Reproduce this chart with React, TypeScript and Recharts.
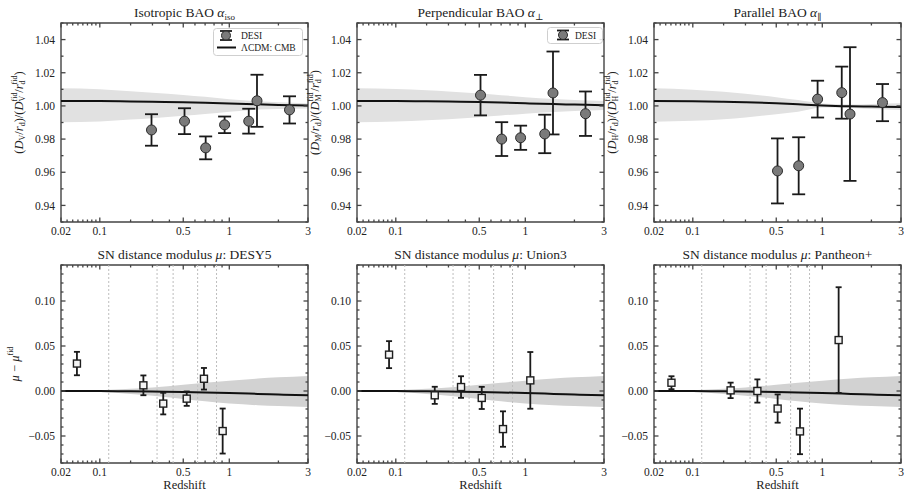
import React from "react"
import {
  ComposedChart, XAxis, YAxis, Area, Line, Scatter, ErrorBar, ReferenceLine, ReferenceArea, Label,
} from "recharts"

const SERIF = "'Liberation Serif', 'DejaVu Serif', serif"
const INK = "#222222"
const FRAME = "#444444"

// ── Redshift axis (the figure plots z on a log10(z + 0.1) axis) ──────────────
const xMajorZ = [0.02, 0.1, 0.5, 1, 3]
const xMajorLabels = ["0.02", "0.1", "0.5", "1", "3"]
const xMinorZ = [0.03, 0.04, 0.05, 0.06, 0.07, 0.08, 0.09, 0.2, 0.3, 0.4, 0.6, 0.7, 0.8, 0.9, 2]

// ── BAO panels ───────────────────────────────────────────────────────────────
const isoZ = [0.295, 0.51, 0.706, 0.934, 1.321, 1.484, 2.33]
const isoVal = [0.9855, 0.9908, 0.9747, 0.9886, 0.9908, 1.0031, 0.9976]
const isoErr = [0.0095, 0.0078, 0.0069, 0.005, 0.0075, 0.0157, 0.0082]

const perpZ = [0.51, 0.706, 0.934, 1.321, 1.484, 2.33]
const perpVal = [1.0065, 0.98, 0.9808, 0.9831, 1.0078, 0.9953]
const perpErr = [0.0122, 0.0102, 0.0073, 0.0116, 0.025, 0.0134]

const parZ = [0.51, 0.706, 0.934, 1.321, 1.484, 2.33]
const parVal = [0.9608, 0.9639, 1.0041, 1.008, 0.9951, 1.002]
const parErr = [0.0196, 0.0172, 0.0111, 0.0157, 0.0403, 0.0112]

// ΛCDM: CMB prediction and its band
const bandZ = [0.02, 0.1, 0.2, 0.3, 0.5, 0.7, 1.0, 1.5, 2.0, 3.0]
const isoMid = [1.003, 1.0029, 1.0027, 1.0025, 1.0022, 1.0019, 1.0015, 1.001, 1.0006, 1.0002]
const isoHi = [1.0106, 1.01, 1.0088, 1.008, 1.0066, 1.0055, 1.004, 1.0028, 1.0022, 1.0015]
const isoLo = [0.9902, 0.9906, 0.9918, 0.9926, 0.994, 0.9951, 0.9965, 0.9978, 0.9982, 0.9985]
const perpMid = [1.003, 1.0029, 1.0028, 1.0026, 1.0023, 1.002, 1.0016, 1.0011, 1.0008, 1.0004]
const perpHi = [1.0106, 1.0102, 1.0094, 1.0087, 1.0075, 1.0065, 1.0053, 1.0042, 1.0036, 1.003]
const perpLo = [0.9902, 0.9906, 0.9914, 0.992, 0.9932, 0.9942, 0.9953, 0.9964, 0.997, 0.9976]
const parMid = [1.003, 1.0028, 1.0025, 1.0022, 1.0016, 1.001, 1.0003, 0.9998, 0.9996, 0.9994]
const parHi = [1.0106, 1.0098, 1.0085, 1.0073, 1.0052, 1.0035, 1.0015, 1.0008, 1.0012, 1.0016]
const parLo = [0.9904, 0.991, 0.992, 0.993, 0.995, 0.9965, 0.999, 0.9988, 0.9982, 0.9976]

// ── SN panels ────────────────────────────────────────────────────────────────
const desZ = [0.048, 0.255, 0.361, 0.528, 0.688, 0.908]
const desVal = [0.0305, 0.0063, -0.014, -0.0085, 0.0136, -0.0445]
const desErr = [0.013, 0.011, 0.012, 0.008, 0.012, 0.025]

const uniZ = [0.083, 0.234, 0.372, 0.52, 0.72, 1.075]
const uniVal = [0.0404, -0.0048, 0.0044, -0.0077, -0.0423, 0.0118]
const uniErr = [0.015, 0.0095, 0.012, 0.0123, 0.0197, 0.0315]

const panZ = [0.051, 0.229, 0.368, 0.511, 0.72, 1.264]
const panVal = [0.0092, 0.0007, 0.0, -0.0195, -0.0449, 0.0566]
const panErr = [0.0072, 0.0086, 0.0129, 0.0157, 0.0253, 0.0587]

const snBandZ = [0.02, 0.05, 0.1, 0.2, 0.3, 0.5, 0.7, 1.0, 1.5, 2.0, 3.0]
const snMid = [0, 0, -0.0001, -0.0003, -0.0006, -0.0011, -0.0016, -0.0023, -0.0032, -0.0039, -0.0048]
const snHi = [0, 0.0002, 0.0008, 0.0025, 0.004, 0.007, 0.0092, 0.0115, 0.0138, 0.0152, 0.0168]
const snLo = [0, -0.0003, -0.001, -0.0032, -0.0052, -0.0088, -0.0115, -0.014, -0.0158, -0.0168, -0.0177]

// dotted redshift bin edges in the SN panels
const snEdges = [0.125, 0.325, 0.425, 0.625, 0.83]

// y ticks
const baoMajor = [0.94, 0.96, 0.98, 1.0, 1.02, 1.04]
const baoMinor = [0.93, 0.95, 0.97, 0.99, 1.01, 1.03, 1.05]
const snMajor = [-0.05, 0, 0.05, 0.1]
const snMinor = [-0.08, -0.07, -0.06, -0.04, -0.03, -0.02, -0.01, 0.01, 0.02, 0.03, 0.04, 0.06, 0.07, 0.08, 0.09, 0.11, 0.12, 0.13, 0.14]

// ── helpers ──────────────────────────────────────────────────────────────────
const zx = (z: number) => Math.log10(z + 0.1)
const X_DOMAIN: [number, number] = [zx(0.02), zx(3)]
const xMajor = xMajorZ.map(zx)
const xAll = [...xMajor, ...xMinorZ.map(zx)]

type Pt = { x: number; y: number; err: number }
type Bd = { x: number; lo: number; hi: number; mid: number }

const toPts = (zs: number[], vs: number[], es: number[]): Pt[] =>
  zs.map((z, i) => ({ x: zx(z), y: vs[i], err: es[i] }))
const toBand = (zs: number[], lo: number[], hi: number[], mid: number[]): Bd[] =>
  zs.map((z, i) => ({ x: zx(z), lo: lo[i], hi: hi[i], mid: mid[i] }))

const isIn = (list: number[], v: number) => list.some((m) => Math.abs(m - v) < 1e-9)
const xLabel = (v: number) => {
  const i = xMajor.findIndex((t) => Math.abs(t - v) < 1e-6)
  return i >= 0 ? xMajorLabels[i] : ""
}
const yLabel = (v: number) => (v < 0 ? "\u2212" + Math.abs(v).toFixed(2) : v.toFixed(2))

const PLOT_W = 247
const X_GAP = 5 // label gap below the x axis
const Y_GAP = 6 // label gap left of the y axis
const MAJ = 4.5
const MIN = 2.5
const tickText = { fontFamily: SERIF, fontSize: 11.5, fill: INK }
const tickStroke = { stroke: FRAME, strokeWidth: 1.3 }

// x tick: inward marks at bottom and top, label for majors
const xTickRenderer = (plotH: number) => (tp: any) => {
  const v = tp.payload.value
  const major = isIn(xMajor, v)
  const len = major ? MAJ : MIN
  const bot = tp.y - X_GAP
  const top = bot - plotH
  return (
    <g>
      <line x1={tp.x} x2={tp.x} y1={bot} y2={bot - len} {...tickStroke} />
      <line x1={tp.x} x2={tp.x} y1={top} y2={top + len} {...tickStroke} />
      {major && (
        <text x={tp.x} y={tp.y} dy="0.71em" textAnchor="middle" {...tickText}>{xLabel(v)}</text>
      )}
    </g>
  )
}

// y tick: inward marks at left and right, label for majors
const yTickRenderer = (majors: number[]) => (tp: any) => {
  const v = tp.payload.value
  const major = isIn(majors, v)
  const len = major ? MAJ : MIN
  const l = tp.x + Y_GAP
  const r = l + PLOT_W
  return (
    <g>
      <line x1={l} x2={l + len} y1={tp.y} y2={tp.y} {...tickStroke} />
      <line x1={r} x2={r - len} y1={tp.y} y2={tp.y} {...tickStroke} />
      {major && (
        <text x={tp.x} y={tp.y} dy="0.36em" textAnchor="end" {...tickText}>{yLabel(v)}</text>
      )}
    </g>
  )
}

const circleShape = (p: any) => (
  <circle cx={p.cx} cy={p.cy} r={5} fill="#7a7a7a" stroke="#2b2b2b" strokeWidth={1} />
)
const squareShape = (p: any) => (
  <rect x={p.cx - 3.5} y={p.cy - 3.5} width={7} height={7} fill="#f4f4f4" stroke="#1e1e1e" strokeWidth={1.4} />
)

// ── axis labels ──────────────────────────────────────────────────────────────
function RatioText({ cx, cy, sub }: { cx: number; cy: number; sub: string }) {
  const s = 8
  return (
    <text
      transform={`translate(${cx},${cy}) rotate(-90)`}
      textAnchor="middle"
      dominantBaseline="central"
      fontFamily={SERIF}
      fontSize={12.5}
      fill={INK}
    >
      <tspan>(</tspan>
      <tspan fontStyle="italic">D</tspan>
      <tspan fontSize={s} dy={3}>{sub}</tspan>
      <tspan dy={-3}>/</tspan>
      <tspan fontStyle="italic">r</tspan>
      <tspan fontSize={s} dy={3}>d</tspan>
      <tspan dy={-3}>)/(</tspan>
      <tspan fontStyle="italic">D</tspan>
      <tspan fontSize={s} dy={-5}>fid</tspan>
      <tspan fontSize={s} dx={-9} dy={8}>{sub}</tspan>
      <tspan dx={3} dy={-3}>/</tspan>
      <tspan fontStyle="italic">r</tspan>
      <tspan fontSize={s} dy={-5}>fid</tspan>
      <tspan fontSize={s} dx={-9} dy={8}>d</tspan>
      <tspan dx={5} dy={-3}>)</tspan>
    </text>
  )
}

function MuText({ cx, cy }: { cx: number; cy: number }) {
  return (
    <text
      transform={`translate(${cx},${cy}) rotate(-90)`}
      textAnchor="middle"
      dominantBaseline="central"
      fontFamily={SERIF}
      fontSize={12.5}
      fill={INK}
    >
      <tspan fontStyle="italic">μ</tspan>
      <tspan>{" \u2212 "}</tspan>
      <tspan fontStyle="italic">μ</tspan>
      <tspan fontSize={8} dy={-5}>fid</tspan>
    </text>
  )
}

// ── one panel ────────────────────────────────────────────────────────────────
type PanelProps = {
  left: number
  top: number
  height: number
  mTop: number
  xAxisH: number
  yDomain: [number, number]
  yMajor: number[]
  yMinor: number[]
  band: Bd[]
  bandFill: string
  points: Pt[]
  shape: (p: any) => React.ReactElement
  cap: number
  vlines?: number[]
  ySub?: string
  mu?: boolean
  redshift?: boolean
}

function Panel(p: PanelProps) {
  const plotH = p.height - p.mTop - 2 - p.xAxisH
  const num = { type: "number" as const, allowDataOverflow: true, interval: 0 as const }
  const ids = { xAxisId: "x", yAxisId: "y" }
  return (
    <div style={{ position: "absolute", left: p.left, top: p.top, width: 318, height: p.height }}>
      <ComposedChart width={318} height={p.height} margin={{ top: p.mTop, right: 10, bottom: 2, left: 0 }}>
        <XAxis
          xAxisId="x" dataKey="x" {...num} domain={X_DOMAIN} ticks={xAll}
          height={p.xAxisH} tickSize={0} tickMargin={X_GAP} tickLine={false} axisLine={false}
          tick={xTickRenderer(plotH)}
        >
          {p.redshift && (
            <Label
              content={(lp: any) => (
                <text
                  x={lp.viewBox.x + lp.viewBox.width / 2} y={lp.viewBox.y + 22}
                  textAnchor="middle" dominantBaseline="central"
                  fontFamily={SERIF} fontSize={12.5} fill={INK}
                >
                  Redshift
                </text>
              )}
            />
          )}
        </XAxis>
        <YAxis
          yAxisId="y" dataKey="y" {...num} domain={p.yDomain} ticks={[...p.yMajor, ...p.yMinor]}
          width={61} tickSize={0} tickMargin={Y_GAP} tickLine={false} axisLine={false}
          tick={yTickRenderer(p.yMajor)}
        >
          {(p.ySub || p.mu) && (
            <Label
              content={(lp: any) => {
                const cy = lp.viewBox.y + lp.viewBox.height / 2
                return p.mu
                  ? <MuText cx={lp.viewBox.x + 15} cy={cy} />
                  : <RatioText cx={lp.viewBox.x + 19} cy={cy - 10} sub={p.ySub as string} />
              }}
            />
          )}
        </YAxis>

        {(p.vlines || []).map((z) => (
          <ReferenceLine
            key={"v" + z} x={zx(z)} {...ids}
            stroke="#bdbdbd" strokeWidth={1} strokeDasharray="2 2"
          />
        ))}
        <Area
          data={p.band} dataKey={(d: Bd) => [d.lo, d.hi]} {...ids}
          type="monotone" stroke="none" fill={p.bandFill} fillOpacity={1}
          dot={false} activeDot={false} isAnimationActive={false}
        />
        <Line
          data={p.band} dataKey="mid" {...ids}
          type="monotone" stroke="#111111" strokeWidth={2} dot={false} activeDot={false} isAnimationActive={false}
        />
        <Scatter data={p.points} {...ids} shape={p.shape} isAnimationActive={false}>
          <ErrorBar dataKey="err" direction="y" width={p.cap} stroke="#1a1a1a" strokeWidth={1.8} />
        </Scatter>
        {/* axes frame */}
        <ReferenceArea
          x1={X_DOMAIN[0]} x2={X_DOMAIN[1]} y1={p.yDomain[0]} y2={p.yDomain[1]} {...ids}
          ifOverflow="visible" fill="none" fillOpacity={0} stroke={FRAME} strokeOpacity={1} strokeWidth={1.4}
        />
      </ComposedChart>
    </div>
  )
}

function Title({ left, top, children }: { left: number; top: number; children: React.ReactNode }) {
  return (
    <div
      style={{
        position: "absolute", left, top, width: 247, textAlign: "center",
        fontFamily: SERIF, fontSize: 13.5, lineHeight: "16px", color: INK, whiteSpace: "nowrap",
      }}
    >
      {children}
    </div>
  )
}

const subStyle: React.CSSProperties = { fontSize: 9, position: "relative", top: 3 }

export default function App() {
  const cols = [0, 296, 593]
  const top = { top: 0, height: 244, mTop: 23, xAxisH: 20 }
  const bot = { top: 243, height: 252, mTop: 22, xAxisH: 30 }
  const baoDom: [number, number] = [0.93, 1.05]
  const snDom: [number, number] = [-0.08, 0.14]
  const baoCommon = { yDomain: baoDom, yMajor: baoMajor, yMinor: baoMinor, bandFill: "#e1e1e1", shape: circleShape, cap: 6.5 }
  const snCommon = {
    yDomain: snDom, yMajor: snMajor, yMinor: snMinor, bandFill: "#d2d2d2", shape: squareShape, cap: 3,
    band: toBand(snBandZ, snLo, snHi, snMid), vlines: snEdges, redshift: true,
  }

  return (
    <div style={{ position: "absolute", left: 0, top: 0, width: 905, height: 495, background: "#fff", overflow: "hidden" }}>
      <Panel {...top} {...baoCommon} left={cols[0]} band={toBand(bandZ, isoLo, isoHi, isoMid)} points={toPts(isoZ, isoVal, isoErr)} ySub="V" />
      <Panel {...top} {...baoCommon} left={cols[1]} band={toBand(bandZ, perpLo, perpHi, perpMid)} points={toPts(perpZ, perpVal, perpErr)} ySub="M" />
      <Panel {...top} {...baoCommon} left={cols[2]} band={toBand(bandZ, parLo, parHi, parMid)} points={toPts(parZ, parVal, parErr)} ySub="H" />
      <Panel {...bot} {...snCommon} left={cols[0]} points={toPts(desZ, desVal, desErr)} mu />
      <Panel {...bot} {...snCommon} left={cols[1]} points={toPts(uniZ, uniVal, uniErr)} />
      <Panel {...bot} {...snCommon} left={cols[2]} points={toPts(panZ, panVal, panErr)} />

      <Title left={61} top={5}>Isotropic BAO <i>α</i><span style={subStyle}>iso</span></Title>
      <Title left={357} top={5}>Perpendicular BAO <i>α</i><span style={subStyle}>⊥</span></Title>
      <Title left={654} top={5}>Parallel BAO <i>α</i><span style={subStyle}>∥</span></Title>
      <Title left={61} top={247}>SN distance modulus <i>μ</i>: DESY5</Title>
      <Title left={357} top={247}>SN distance modulus <i>μ</i>: Union3</Title>
      <Title left={654} top={247}>SN distance modulus <i>μ</i>: Pantheon+</Title>

      {/* legend, panel 1 */}
      <svg style={{ position: "absolute", left: 213, top: 28 }} width={90} height={28}>
        <rect x={0.5} y={0.5} width={89} height={27} rx={3} fill="rgba(255,255,255,0.85)" stroke="#cfcfcf" />
        <line x1={13} y1={3} x2={13} y2={12} stroke="#1a1a1a" strokeWidth={1.8} />
        <line x1={7} y1={3} x2={19} y2={3} stroke="#1a1a1a" strokeWidth={1.8} />
        <line x1={7} y1={12} x2={19} y2={12} stroke="#1a1a1a" strokeWidth={1.8} />
        <circle cx={13} cy={7.5} r={4.5} fill="#7a7a7a" stroke="#2b2b2b" />
        <text x={28} y={8} dominantBaseline="central" fontFamily={SERIF} fontSize={9.5} fill={INK}>DESI</text>
        <line x1={4} y1={19.5} x2={23} y2={19.5} stroke="#111" strokeWidth={2} />
        <text x={28} y={20} dominantBaseline="central" fontFamily={SERIF} fontSize={9.5} fill={INK}>ΛCDM: CMB</text>
      </svg>
      {/* legend, panel 2 */}
      <svg style={{ position: "absolute", left: 547, top: 27 }} width={56} height={17}>
        <rect x={0.5} y={0.5} width={55} height={16} rx={3} fill="rgba(255,255,255,0.85)" stroke="#cfcfcf" />
        <line x1={16} y1={3.5} x2={16} y2={12.5} stroke="#1a1a1a" strokeWidth={1.8} />
        <line x1={10} y1={3.5} x2={22} y2={3.5} stroke="#1a1a1a" strokeWidth={1.8} />
        <line x1={10} y1={12.5} x2={22} y2={12.5} stroke="#1a1a1a" strokeWidth={1.8} />
        <circle cx={16} cy={8} r={4.5} fill="#7a7a7a" stroke="#2b2b2b" />
        <text x={28} y={8.5} dominantBaseline="central" fontFamily={SERIF} fontSize={9.5} fill={INK}>DESI</text>
      </svg>
    </div>
  )
}
